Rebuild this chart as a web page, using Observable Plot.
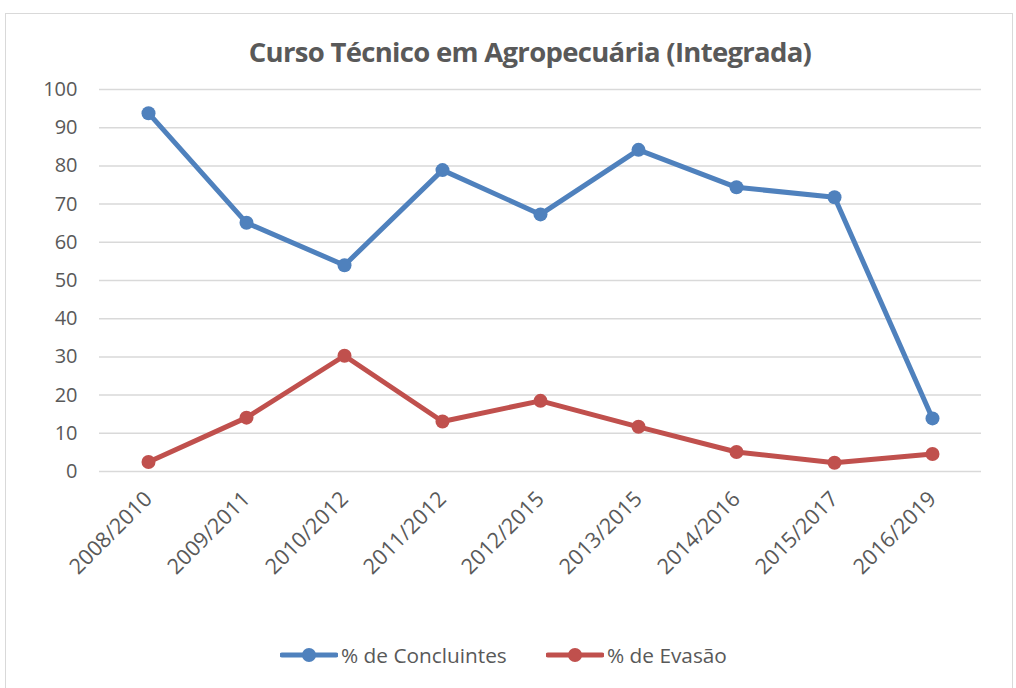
<!DOCTYPE html>
<html>
<head>
<meta charset="utf-8">
<script src="https://cdn.jsdelivr.net/npm/d3@7"></script>
<script src="https://cdn.jsdelivr.net/npm/@observablehq/plot@0.6"></script>
<style>
  html, body { margin: 0; padding: 0; background: #fff; width: 1016px; height: 688px; overflow: hidden; font-family: "Open Sans", sans-serif; }
  #frame { position: absolute; left: 5px; top: 13px; width: 1008px; height: 700px; border: 1.5px solid #d9d9d9; box-sizing: border-box; }
  #title { position: absolute; left: 0; width: 1060px; top: 33px; text-align: center; font-size: 27.5px; font-weight: 700; color: #595959; line-height: 38px; letter-spacing: -0.7px; }
  #chart { position: absolute; left: 0; top: 0; }
  #legend { position: absolute; top: 640px; left: 0; width: 1016px; height: 30px; }
  .item { position: absolute; top: 0; display: flex; align-items: center; font-size: 20.8px; color: #595959; height: 30px; }
  .item svg { margin-right: 3px; }
</style>
</head>
<body>
<div id="frame"></div>
<div id="title">Curso Técnico em Agropecuária (Integrada)</div>
<div id="chart"></div>
<div id="legend"></div>
<script>
const categories = ["2008/2010","2009/2011","2010/2012","2011/2012","2012/2015","2013/2015","2014/2016","2015/2017","2016/2019"];
const seriesNames = ["% de Concluintes", "% de Evasão"];
const seriesColors = ["#4f81bd", "#c0504d"];
const concluintes = [93.8, 65.1, 54.0, 78.9, 67.3, 84.2, 74.4, 71.8, 13.9];
const evasao = [2.5, 14.1, 30.3, 13.1, 18.5, 11.7, 5.1, 2.3, 4.6];
const yTicks = [0,10,20,30,40,50,60,70,80,90,100];

const data = [];
categories.forEach((c, i) => {
  data.push({cat: c, series: seriesNames[0], value: concluintes[i]});
  data.push({cat: c, series: seriesNames[1], value: evasao[i]});
});

const chart = Plot.plot({
  width: 1016,
  height: 688,
  marginLeft: 99,
  marginRight: 35,
  marginTop: 89,
  marginBottom: 217,
  style: { fontFamily: "Open Sans", fontSize: "20px", color: "#595959", background: "transparent", overflow: "visible" },
  x: { type: "point", domain: categories, padding: 0.5, label: null },
  y: { domain: [0, 100], label: null },
  color: { domain: seriesNames, range: seriesColors },
  marks: [
    Plot.gridY(yTicks, { stroke: "#d9d9d9", strokeOpacity: 1, strokeWidth: 1.5 }),
    Plot.axisY(yTicks, { tickSize: 0, tickPadding: 22, label: null, fill: "#595959", fontSize: 20 }),
    Plot.axisX(categories, { tickSize: 0, tickPadding: 24, tickRotate: -45, label: null, fill: "#595959", fontSize: 21.5 }),
    Plot.line(data, { x: "cat", y: "value", z: "series", stroke: "series", strokeWidth: 5, strokeLinejoin: "round", strokeLinecap: "round" }),
    Plot.dot(data, { x: "cat", y: "value", fill: "series", r: 7 })
  ]
});
document.getElementById("chart").appendChild(chart);

// legend
const legend = document.getElementById("legend");
const lefts = [280, 546];
seriesNames.forEach((name, i) => {
  const item = document.createElement("div");
  item.className = "item";
  item.style.left = lefts[i] + "px";
  item.innerHTML = `<svg width="58" height="16"><line x1="2" y1="8" x2="56" y2="8" stroke="${seriesColors[i]}" stroke-width="5" stroke-linecap="round"/><circle cx="29" cy="8" r="7" fill="${seriesColors[i]}"/></svg><span>${name}</span>`;
  legend.appendChild(item);
});
</script>
</body>
</html>
